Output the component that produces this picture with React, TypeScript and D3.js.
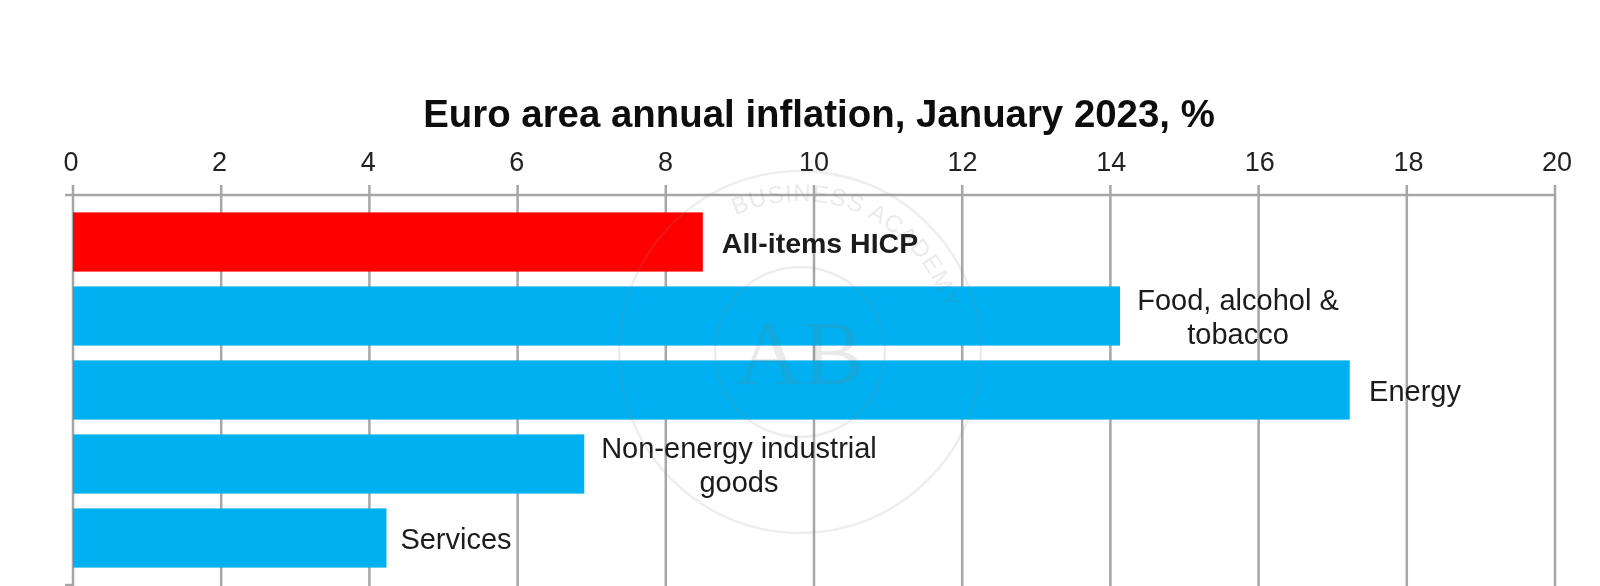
import React from "react";
import * as d3 from "d3";

const title = "Euro area annual inflation, January 2023, %";
const categories = ["All-items HICP", "Food, alcohol & tobacco", "Energy", "Non-energy industrial goods", "Services"];
const values = [8.5, 14.13, 17.23, 6.9, 4.23];
const barColors = ["#ff0000", "#00b0f0", "#00b0f0", "#00b0f0", "#00b0f0"];
const ticks = [0, 2, 4, 6, 8, 10, 12, 14, 16, 18, 20];
const labelLines = [["All-items HICP"], ["Food, alcohol &", "tobacco"], ["Energy"], ["Non-energy industrial", "goods"], ["Services"]];
const labelCentres = [820, 1238, 1415, 739, 456];
const watermarkTop = "BUSINESS ACADEMY";

const FONT = "'Liberation Sans', Arial, sans-serif";

export default function App() {
  const x = d3.scaleLinear().domain([0, 20]).range([73, 1555]);
  const tickLabelX = d3.scaleLinear().domain([0, 20]).range([71, 1557]);
  const y = d3.scaleBand().domain(categories).range([205, 575]).paddingInner(0.2).paddingOuter(0.1);
  const axisY = 195;
  const bottom = 586;
  const cx = 800, cy = 352;
  return (
    <svg width={1600} height={586} style={{ position: "absolute", left: 0, top: 0, background: "#fff" }} fontFamily={FONT}>
      <defs>
        <filter id="soft" x="-5%" y="-5%" width="110%" height="110%"><feGaussianBlur stdDeviation="0.6" /></filter>
        <path id="wm" d={`M ${cx - 148} ${cy + 30} A 151 151 0 1 1 ${cx + 148} ${cy + 30}`} />
      </defs>
      <g filter="url(#soft)">
        <line x1={x(0) - 8} x2={x(20)} y1={axisY} y2={axisY} stroke="#a6a6a6" strokeWidth={2.5} />
        {ticks.map((t) => (
          <line key={t} x1={x(t)} x2={x(t)} y1={185} y2={bottom} stroke="#a6a6a6" strokeWidth={2.5} />
        ))}
        <line x1={x(0) - 8} x2={x(0)} y1={bottom - 1} y2={bottom - 1} stroke="#a6a6a6" strokeWidth={2.5} />
        {categories.map((c, i) => (
          <rect key={c} x={x(0)} y={y(c)} width={x(values[i]) - x(0)} height={y.bandwidth()} fill={barColors[i]} />
        ))}
        {ticks.map((t) => (
          <text key={t} x={tickLabelX(t)} y={171} textAnchor="middle" fontSize={27} fill="#222">{t}</text>
        ))}
        <text x={819} y={127} textAnchor="middle" fontSize={38.4} fontWeight="bold" fill="#111">{title}</text>
        {categories.map((c, i) => {
          const lines = labelLines[i];
          const mid = y(c)! + y.bandwidth() / 2;
          return lines.map((l, j) => (
            <text key={l} x={labelCentres[i]} y={mid + 11 + (j - (lines.length - 1) / 2) * 34} textAnchor="middle"
              fontSize={i === 0 ? 28.5 : 29} fontWeight={i === 0 ? "bold" : "normal"} fill="#1a1a1a">{l}</text>
          ));
        })}
      </g>
      <g fill="none" stroke="#8a8a8a" opacity={0.15} strokeWidth={2.5}>
        <circle cx={cx} cy={cy} r={181} />
        <circle cx={cx} cy={cy} r={85} />
      </g>
      <g opacity={0.15} fill="#777">
        <text fontSize={24} letterSpacing={1}><textPath href="#wm" startOffset="62%" textAnchor="middle">{watermarkTop}</textPath></text>
        <text x={cx} y={cy + 32} textAnchor="middle" fontSize={92} fontFamily="'Liberation Serif', serif">AB</text>
      </g>
    </svg>
  );
}
